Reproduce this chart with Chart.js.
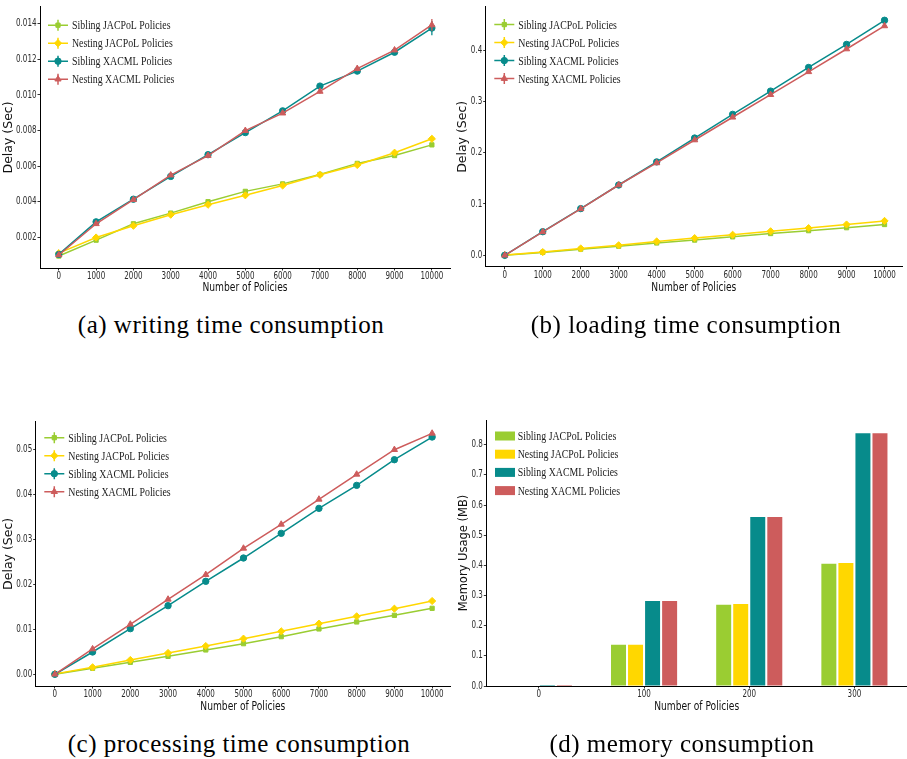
<!DOCTYPE html>
<html><head><meta charset="utf-8">
<script src="https://cdn.jsdelivr.net/npm/chart.js@4.4.1/dist/chart.umd.min.js"></script>
<style>
html,body{margin:0;padding:0;background:#fff;}
body{width:907px;height:759px;position:relative;overflow:hidden;}
.panel{position:absolute;}
.panel canvas{display:block;}
.cap{position:absolute;font-family:"Liberation Serif","Times New Roman",serif;font-size:25px;letter-spacing:0.5px;color:#000;white-space:nowrap;transform:translate(-50%,-50%);}
</style></head><body>
<div class="panel" style="left:0;top:0"><canvas id="ca" width="455" height="300"></canvas></div>
<div class="panel" style="left:450px;top:0"><canvas id="cb" width="457" height="300"></canvas></div>
<div class="panel" style="left:0;top:410px"><canvas id="cc" width="455" height="310"></canvas></div>
<div class="panel" style="left:450px;top:410px"><canvas id="cd" width="457" height="310"></canvas></div>
<div class="cap" style="left:231px;top:325px">(a) writing time consumption</div>
<div class="cap" style="left:686px;top:325px">(b) loading time consumption</div>
<div class="cap" style="left:239px;top:744px">(c) processing time consumption</div>
<div class="cap" style="left:682px;top:744px">(d) memory consumption</div>
<script>
// ---------- data ----------
const seriesNames = ['Sibling JACPoL Policies', 'Nesting JACPoL Policies', 'Sibling XACML Policies', 'Nesting XACML Policies'];
const policies = [0, 1000, 2000, 3000, 4000, 5000, 6000, 7000, 8000, 9000, 10000];

// (a) writing time (sec)
const writeSiblingJACPoL = [0.00096, 0.00185, 0.00277, 0.00337, 0.00401, 0.00459, 0.00501, 0.00554, 0.00616, 0.00660, 0.00720];
const writeNestingJACPoL = [0.00112, 0.00200, 0.00266, 0.00328, 0.00384, 0.00437, 0.00492, 0.00552, 0.00607, 0.00676, 0.00754];
const writeSiblingXACML  = [0.00105, 0.00288, 0.00415, 0.00543, 0.00665, 0.00789, 0.00911, 0.01050, 0.01134, 0.01240, 0.01376];
const writeNestingXACML  = [0.00102, 0.00277, 0.00412, 0.00550, 0.00660, 0.00800, 0.00898, 0.01020, 0.01148, 0.01252, 0.01393];
const writeErrSiblingJACPoL = [0.00012, 0.0001, 0.00008, 0.00008, 0.00008, 0.00008, 0.00008, 0.00008, 0.00008, 0.00008, 0.0001];
const writeErrNestingJACPoL = [0.00015, 0.00012, 0.0001, 0.0001, 0.0001, 0.0001, 0.0001, 0.0001, 0.0001, 0.0001, 0.00012];
const writeErrSiblingXACML  = [0.0001, 0.00015, 0.0001, 0.0001, 0.0001, 0.0001, 0.0001, 0.00012, 0.0001, 0.00012, 0.0004];
const writeErrNestingXACML  = [0.0001, 0.00012, 0.0001, 0.0001, 0.0001, 0.0001, 0.0001, 0.00012, 0.00015, 0.00012, 0.00033];

// (b) loading time (sec)
const loadSiblingJACPoL = [0.0, 0.0057, 0.0120, 0.0177, 0.0240, 0.0297, 0.0360, 0.0424, 0.0480, 0.0538, 0.0600];
const loadNestingJACPoL = [0.0005, 0.0063, 0.0133, 0.0196, 0.0270, 0.0335, 0.0400, 0.0468, 0.0530, 0.0600, 0.0670];
const loadSiblingXACML  = [0.0, 0.0460, 0.0910, 0.1370, 0.1820, 0.2285, 0.2747, 0.3200, 0.3660, 0.4110, 0.4580];
const loadNestingXACML  = [0.0, 0.0456, 0.0905, 0.1370, 0.1800, 0.2247, 0.2690, 0.3130, 0.3576, 0.4020, 0.4470];

// (c) processing time (sec)
const procSiblingJACPoL = [0.0, 0.00134, 0.00267, 0.00400, 0.00542, 0.00682, 0.00838, 0.01010, 0.01165, 0.01313, 0.01469];
const procNestingJACPoL = [0.0001, 0.00156, 0.00319, 0.00475, 0.00630, 0.00794, 0.00957, 0.01128, 0.01291, 0.01461, 0.01632];
const procSiblingXACML  = [0.0, 0.00497, 0.01016, 0.01528, 0.02070, 0.02589, 0.03138, 0.03694, 0.04206, 0.04777, 0.05282];
const procNestingXACML  = [0.0, 0.00564, 0.01113, 0.01669, 0.02218, 0.02804, 0.03338, 0.03895, 0.04451, 0.05000, 0.05364];

// (d) memory usage (MB)
const memCategories = ['0', '100', '200', '300'];
const memSiblingJACPoL = [0.0, 0.137, 0.269, 0.405];
const memNestingJACPoL = [0.0, 0.137, 0.272, 0.408];
const memSiblingXACML  = [0.003, 0.282, 0.560, 0.838];
const memNestingXACML  = [0.003, 0.282, 0.560, 0.838];

// tick labels
const policyTicks = [0, 1000, 2000, 3000, 4000, 5000, 6000, 7000, 8000, 9000, 10000];
const writeYTicks = [0.002, 0.004, 0.006, 0.008, 0.010, 0.012, 0.014];
const loadYTicks  = [0.0, 0.1, 0.2, 0.3, 0.4];
const procYTicks  = [0.00, 0.01, 0.02, 0.03, 0.04, 0.05];
const memYTicks   = [0.0, 0.1, 0.2, 0.3, 0.4, 0.5, 0.6, 0.7, 0.8];

// ---------- styling ----------
const COLORS = ['#9ACD32', '#FFD700', '#078B8B', '#CD5C5C'];
const POINT_STYLES = ['rect', 'rectRot', 'circle', 'triangle'];
const POINT_RADII = [3, 3.6, 3.2, 3.6];
const SANS = '"DejaVu Sans", sans-serif';
const SERIF = '"Liberation Serif", "Times New Roman", serif';

// horizontally condensed canvas text (upright text only)
const SQX = 0.73;
(function () {
  const P = CanvasRenderingContext2D.prototype;
  const oFill = P.fillText, oMeasure = P.measureText;
  P.fillText = function (t, x, y, mw) {
    const m = this.getTransform();
    if (Math.abs(m.b) > 1e-6 || Math.abs(m.c) > 1e-6) {
      return mw === undefined ? oFill.call(this, t, x, y) : oFill.call(this, t, x, y, mw);
    }
    this.save();
    this.translate(x, y);
    this.scale(SQX, 1);
    oFill.call(this, t, 0, 0);
    this.restore();
  };
  P.measureText = function (t) {
    const r = oMeasure.call(this, t);
    return {
      width: r.width * SQX,
      actualBoundingBoxAscent: r.actualBoundingBoxAscent,
      actualBoundingBoxDescent: r.actualBoundingBoxDescent,
      actualBoundingBoxLeft: r.actualBoundingBoxLeft * SQX,
      actualBoundingBoxRight: r.actualBoundingBoxRight * SQX,
      fontBoundingBoxAscent: r.fontBoundingBoxAscent,
      fontBoundingBoxDescent: r.fontBoundingBoxDescent
    };
  };
})();

function drawMarker(ctx, style, r, x, y) {
  if (Chart.helpers && Chart.helpers.drawPoint) {
    Chart.helpers.drawPoint(ctx, {pointStyle: style, radius: r, borderWidth: 1, rotation: 0}, x, y);
  } else {
    ctx.beginPath(); ctx.arc(x, y, r, 0, Math.PI * 2); ctx.fill();
  }
}

const insetLegend = {
  id: 'insetLegend',
  afterDraw(chart, args, o) {
    if (!o || !o.show) return;
    const ctx = chart.ctx, ca = chart.chartArea;
    ctx.save();
    ctx.font = o.font;
    ctx.textBaseline = 'middle';
    ctx.textAlign = 'left';
    chart.data.datasets.forEach((ds, i) => {
      const y = ca.top + o.top + i * o.gap;
      const x0 = ca.left + o.left;
      if (o.kind === 'box') {
        ctx.fillStyle = ds.backgroundColor;
        ctx.fillRect(x0, y - o.boxH / 2, o.boxW, o.boxH);
      } else {
        ctx.strokeStyle = ds.borderColor;
        ctx.lineWidth = 1.5;
        ctx.beginPath();
        ctx.moveTo(x0, y); ctx.lineTo(x0 + o.boxW, y);
        ctx.moveTo(x0 + o.boxW / 2, y - 5.5); ctx.lineTo(x0 + o.boxW / 2, y + 5.5);
        ctx.stroke();
        ctx.fillStyle = ds.borderColor;
        ctx.lineWidth = 1;
        drawMarker(ctx, ds.pointStyle, ds.pointRadius, x0 + o.boxW / 2, y);
      }
      ctx.fillStyle = o.color;
      ctx.fillText(ds.label, x0 + o.textOff, y + 0.5);
    });
    ctx.restore();
  }
};

const errorBars = {
  id: 'errorBars',
  afterDatasetDraw(chart, args) {
    const ds = chart.data.datasets[args.index];
    if (!ds.errors) return;
    const ctx = chart.ctx, ys = chart.scales.y;
    ctx.save();
    ctx.strokeStyle = ds.borderColor;
    ctx.lineWidth = 1.3;
    args.meta.data.forEach((pt, i) => {
      const v = ds.data[i].y, e = ds.errors[i];
      ctx.beginPath();
      ctx.moveTo(pt.x, ys.getPixelForValue(v - e));
      ctx.lineTo(pt.x, ys.getPixelForValue(v + e));
      ctx.stroke();
    });
    ctx.restore();
  }
};

function lineDatasets(seriesList, errList) {
  return seriesList.map((vals, i) => ({
    label: seriesNames[i],
    data: policies.map((p, j) => ({x: p, y: vals[j]})),
    errors: errList ? errList[i] : undefined,
    borderColor: COLORS[i],
    backgroundColor: COLORS[i],
    pointBackgroundColor: COLORS[i],
    pointBorderColor: COLORS[i],
    pointStyle: POINT_STYLES[i],
    pointRadius: POINT_RADII[i],
    pointBorderWidth: 1,
    borderWidth: 1.5,
    tension: 0,
    order: 4 - i
  }));
}

function axisCommon() {
  return {
    border: {display: true, color: '#000', width: 1},
    grid: {display: true, drawOnChartArea: false, drawTicks: true, tickLength: 2.5, color: '#333', tickColor: '#333'},
  };
}

function makeLineChart(id, seriesList, errList, cfg) {
  const xAx = Object.assign(axisCommon(), {
    type: 'linear', position: 'bottom', min: cfg.xMin, max: cfg.xMax,
    afterBuildTicks: (ax) => { ax.ticks = policyTicks.map(v => ({value: v})); },
    afterFit: (s) => { s.height = cfg.xH; },
    ticks: {autoSkip: false, maxRotation: 0, padding: 0, color: '#2a2a2a', font: {family: SANS, size: 9.8},
            callback: (v) => String(v)},
    title: {display: true, text: 'Number of Policies', color: '#111', font: {family: SANS, size: 12.5},
            padding: {top: 0, bottom: cfg.xTitlePad}}
  });
  const yAx = Object.assign(axisCommon(), {
    type: 'linear', position: 'left', min: cfg.yMin, max: cfg.yMax,
    afterBuildTicks: (ax) => { ax.ticks = cfg.yTicks.map(v => ({value: v})); },
    afterFit: (s) => { s.width = cfg.yW; },
    ticks: {padding: 1, color: '#2a2a2a', font: {family: SANS, size: 9.8}, callback: (v) => v.toFixed(cfg.yDec)},
    title: {display: true, text: 'Delay (Sec)', color: '#111', font: {family: SANS, size: 12.5},
            padding: {top: cfg.yTitlePad, bottom: 0}}
  });
  return new Chart(document.getElementById(id), {
    type: 'line',
    data: {datasets: lineDatasets(seriesList, errList)},
    options: {
      responsive: false, animation: false,
      layout: {padding: cfg.pad},
      plugins: {legend: {display: false}, tooltip: {enabled: false},
        insetLegend: {show: true, kind: 'line', font: '13.5px ' + SERIF, color: '#1a1a1a',
                      left: cfg.legLeft, top: cfg.legTop, gap: 18, boxW: 20, boxH: 9, textOff: 24}},
      scales: {x: xAx, y: yAx}
    },
    plugins: [insetLegend, errorBars]
  });
}

makeLineChart('ca',
  [writeSiblingJACPoL, writeNestingJACPoL, writeSiblingXACML, writeNestingXACML],
  [writeErrSiblingJACPoL, writeErrNestingJACPoL, writeErrSiblingXACML, writeErrNestingXACML],
  {xMin: -504, xMax: 10486, yMin: 0.000288, yMax: 0.014946, yTicks: writeYTicks, yDec: 3,
   xH: 32, yW: 40, xTitlePad: 4.5, yTitlePad: 1.5, pad: {left: 0, top: 0, right: 1, bottom: 0},
   legLeft: 8, legTop: 18.3});

makeLineChart('cb',
  [loadSiblingJACPoL, loadNestingJACPoL, loadSiblingXACML, loadNestingXACML], null,
  {xMin: -502, xMax: 10460, yMin: -0.0222, yMax: 0.4841, yTicks: loadYTicks, yDec: 1,
   xH: 33.3, yW: 35.7, xTitlePad: 5.2, yTitlePad: 5.5, pad: {left: 0, top: 0, right: 0, bottom: 0},
   legLeft: 8.6, legTop: 17.7});

makeLineChart('cc',
  [procSiblingJACPoL, procNestingJACPoL, procSiblingXACML, procNestingXACML], null,
  {xMin: -508, xMax: 10474, yMin: -0.0026, yMax: 0.05623, yTicks: procYTicks, yDec: 2,
   xH: 34, yW: 35.7, xTitlePad: 5.8, yTitlePad: 1.5, pad: {left: 0, top: 11.7, right: 2, bottom: 0},
   legLeft: 8.6, legTop: 16});

// (d) bar chart
const memSeries = [memSiblingJACPoL, memNestingJACPoL, memSiblingXACML, memNestingXACML];
new Chart(document.getElementById('cd'), {
  type: 'bar',
  data: {
    labels: memCategories,
    datasets: memSeries.map((vals, i) => ({
      label: seriesNames[i], data: vals, backgroundColor: COLORS[i], borderWidth: 0,
      categoryPercentage: 0.648, barPercentage: 0.88
    }))
  },
  options: {
    responsive: false, animation: false,
    layout: {padding: {left: 0, top: 10, right: 0, bottom: 0}},
    plugins: {legend: {display: false}, tooltip: {enabled: false},
      insetLegend: {show: true, kind: 'box', font: '13.5px ' + SERIF, color: '#1a1a1a',
                    left: 8.7, top: 16, gap: 18.2, boxW: 20, boxH: 9, textOff: 22.7}},
    scales: {
      x: Object.assign(axisCommon(), {
        type: 'category', offset: true,
        grid: {display: true, offset: false, drawOnChartArea: false, drawTicks: true, tickLength: 2.5, color: '#333', tickColor: '#333'},
        afterFit: (s) => { s.height = 34; },
        ticks: {padding: 0, color: '#2a2a2a', font: {family: SANS, size: 9.8}},
        title: {display: true, text: 'Number of Policies', color: '#111', font: {family: SANS, size: 12.5},
                padding: {top: 0, bottom: 5.5}}
      }),
      y: Object.assign(axisCommon(), {
        type: 'linear', min: 0, max: 0.882,
        afterBuildTicks: (ax) => { ax.ticks = memYTicks.map(v => ({value: v})); },
        afterFit: (s) => { s.width = 36.3; },
        ticks: {padding: 1, color: '#2a2a2a', font: {family: SANS, size: 9.8}, callback: (v) => v.toFixed(1)},
        title: {display: true, text: 'Memory Usage (MB)', color: '#111', font: {family: SANS, size: 11.5},
                padding: {top: 7.1, bottom: 0}}
      })
    }
  },
  plugins: [insetLegend]
});
</script>
</body></html>
